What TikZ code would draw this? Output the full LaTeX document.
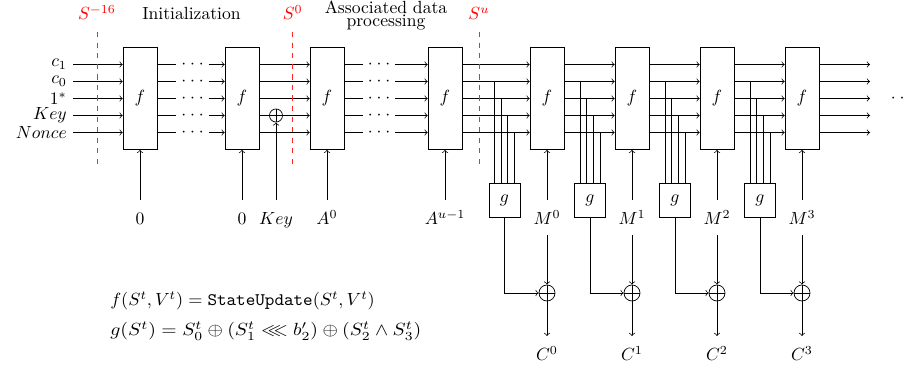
\documentclass[tikz,border=0pt]{standalone}
\usepackage{amsmath,amssymb}
\usetikzlibrary{calc}
\begin{document}
\begin{tikzpicture}[x=0.568pt,y=-0.568pt,>=to,
  fbox/.style={draw, minimum width=19.3pt, minimum height=57.9pt, inner sep=0pt},
  gbox/.style={draw, minimum width=17.6pt, minimum height=19.3pt, inner sep=0pt},
  dotsn/.style={inner xsep=2.5pt, inner ysep=0pt, anchor=base},
  xorc/.style={circle, draw, inner sep=0pt, minimum size=#1,
    path picture={\draw (path picture bounding box.north) -- (path picture bounding box.south)
      (path picture bounding box.west) -- (path picture bounding box.east);}},
  xorc/.default=9pt,
  sline/.style={red!85, dashed}]
\useasboundingbox (0,0) rectangle (907,368);
\newcommand{\dd}{$\cdotp\mkern1mu\cdotp\mkern1mu\cdotp$}

% row coordinates
\foreach \i/\y in {1/64.5,2/81.5,3/98.5,4/115.5,5/132.5}
  \coordinate (r\i) at (0,\y);

% f boxes
\foreach \n/\x in {1/140,2/242,3/327,4/445,5/547,6/632,7/717,8/802}
  \node[fbox] (f\n) at (\x,98.5) {$f$};

% inputs on the left
\foreach \i/\y/\t in {1/64.5/c_1,2/81.5/c_0,3/98.5/1^*,4/115.5/Key,5/132.5/Nonce} {
  \coordinate (in\i) at (73,\y);
  \node[anchor=east] (lab\i) at (in\i) {$\t$};
  \draw[->] (in\i) -- (f1.west |- r\i);
}

% key xor
\node[xorc=7.4pt] (kx) at (276,115.5) {};

% horizontal connections
\foreach \i/\y in {1/64.5,2/81.5,3/98.5,4/115.5,5/132.5} {
  \node[dotsn] (da\i) at (192.5,\y+4.4) {\dd};
  \draw (f1.east |- r\i) -- (da\i.west |- r\i);
  \draw[->] (da\i.east |- r\i) -- (f2.west |- r\i);
  \draw[->] (f2.east |- r\i) -- (f3.west |- r\i);
  \node[dotsn] (db\i) at (379,\y+4.4) {\dd};
  \draw (f3.east |- r\i) -- (db\i.west |- r\i);
  \draw[->] (db\i.east |- r\i) -- (f4.west |- r\i);
  \draw[->] (f4.east |- r\i) -- (f5.west |- r\i);
  \draw[->] (f5.east |- r\i) -- (f6.west |- r\i);
  \draw[->] (f6.east |- r\i) -- (f7.west |- r\i);
  \draw[->] (f7.east |- r\i) -- (f8.west |- r\i);
  \coordinate (out\i) at (870,\y);
  \draw[->] (f8.east |- r\i) -- (out\i);
}
\node[anchor=base west, inner sep=0pt] (dend) at (890.5,102.9) {\dd};

% key input
\coordinate (kb) at (276,200);
\draw[->] (kb) -- (kx.south);
\node[anchor=base] (klab) at (276,225) {$Key$};

% bottom inputs
\foreach \n/\x/\t in {1/140/0,2/242/0,3/327/A^0,4/445/A^{u-1},5/547/M^0,6/632/M^1,7/717/M^2,8/802/M^3} {
  \coordinate (b\n) at (\x,200);
  \draw[->] (b\n) -- (f\n.south);
  \node[anchor=base] (lb\n) at (\x,225) {$\t$};
}

% g boxes and output xors
\foreach \k/\gx/\fx in {0/504.5/547,1/590/632,2/675/717,3/760/802} {
  \node[gbox] (g\k) at (\gx,200) {$g$};
  \foreach \j/\dx in {2/-10,3/-3.3,4/3.3,5/10} {
    \coordinate (t) at ($(g\k.north)+(\dx,0)$);
    \draw (t) -- (t |- r\j);
  }
  \node[xorc=9.1pt] (x\k) at (\fx,293) {};
  \draw[->] (g\k.south) |- (x\k.west);
  \coordinate (mt\k) at (\fx,235);
  \draw[->] (mt\k) -- (x\k.north);
  \coordinate (ce\k) at (\fx,336);
  \draw[->] (x\k.south) -- (ce\k);
  \node[anchor=base] (cl\k) at (\fx,361) {$C^{\k}$};
}

% state separators
\foreach \x/\t in {97/{-16},292.7/0,479/u} {
  \draw[sline] (\x,32) -- (\x,167);
  \node[red, anchor=base] at (\x,20) {$S^{\t}$};
}

% titles
\node[anchor=base] (tinit) at (191.5,20) {Initialization};
\node[anchor=north, inner sep=0pt, align=center] (tad) at (386,0.5) {Associated data\\[-4.4pt]processing};

% formulas
\node[anchor=base west, inner sep=0pt] (eqf) at (110,306) {\scalebox{1.035}[1]{$f(S^t,V^t)=\texttt{StateUpdate}(S^t,V^t)$}};
\node[anchor=base west, inner sep=0pt] (eqg) at (110,336) {\scalebox{1.12}[1]{$g(S^t)=S_0^t\oplus(S_1^t\lll b_2')\oplus(S_2^t\wedge S_3^t)$}};
\end{tikzpicture}
\end{document}
